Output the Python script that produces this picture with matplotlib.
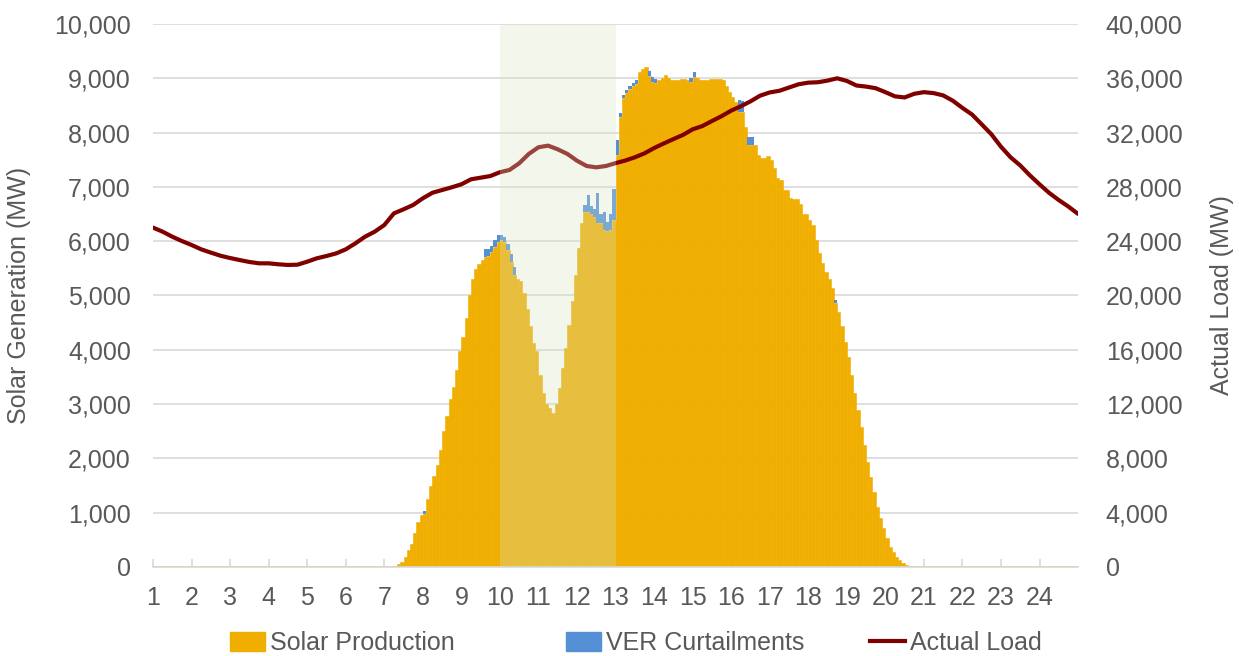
import numpy as np
import matplotlib
matplotlib.use("Agg")
import matplotlib.pyplot as plt
from matplotlib.patches import Patch
from matplotlib.lines import Line2D
from matplotlib.ticker import FuncFormatter, MultipleLocator

# 5-minute solar production (MW), 288 intervals from hour 1 to hour 25
solar_mw = [20] * 76 + [
    50, 100, 190, 320, 420, 620, 830, 960, 980, 1250, 1500, 1680,          # 76-87
    1880, 2150, 2500, 2780, 3100, 3320, 3630, 3980, 4240, 4580, 5000, 5300,  # 88-99
    5480, 5580, 5650, 5700, 5720, 5800, 5900, 5980, 6020, 5990, 5840, 5620,  # 100-111
    5380, 5300, 5270, 5040, 4760, 4430, 4120, 3970, 3540, 3210, 3010, 2920,  # 112-123
    2830, 3010, 3290, 3660, 4030, 4460, 4890, 5380, 5870, 6330, 6540, 6540,  # 124-135
    6510, 6450, 6330, 6330, 6200, 6180, 6200, 6390, 7590, 8290, 8630, 8730,  # 136-147
    8800, 8850, 8900, 9120, 9170, 9200, 9050, 8940, 8920, 8970, 9000, 9060,  # 148-159
    9010, 8970, 8970, 8970, 8990, 8990, 8970, 8940, 9030, 9000, 8970, 8970,  # 160-171
    8970, 8990, 8990, 8990, 8990, 8970, 8850, 8750, 8660, 8570, 8385, 8380,  # 172-183
    8100, 7780, 7780, 7770, 7590, 7530, 7530, 7560, 7500, 7340, 7160, 7130,  # 184-195
    6940, 6940, 6790, 6770, 6770, 6690, 6510, 6510, 6390, 6300, 6020, 5780,  # 196-207
    5590, 5440, 5300, 5130, 4860, 4700, 4430, 4150, 3870, 3540, 3200, 2890,  # 208-219
    2580, 2250, 1940, 1660, 1390, 1110, 900, 710, 530, 370, 280, 190,        # 220-231
    130, 70, 40,                                                             # 232-234
] + [20] * 53

# VER curtailments stacked on top of solar (MW)
curtail_mw = ([0] * 84 + [50] + [0] * 18
              + [150, 130, 120, 120, 130, 100, 80, 110, 140, 150]
              + [0] * 21
              + [130, 310, 130, 150, 560, 180, 340, 180, 300, 580, 280, 80, 60, 60, 50, 60, 60]
              + [0, 0, 0] + [90, 80, 60] + [0] * 10 + [70, 90] + [0] * 13
              + [215, 200, 0, 140, 140] + [0] * 25 + [60] + [0] * 75)

# Actual load (MW), every 15 minutes from hour 1 to hour 25
load_mw = [
    25000, 24700, 24330, 24010, 23720, 23400, 23160, 22930, 22760, 22610,
    22470, 22370, 22370, 22300, 22250, 22270, 22490, 22740, 22910, 23100,
    23400, 23840, 24330, 24700, 25190, 26050, 26350, 26670, 27160, 27570,
    27770, 27970, 28190, 28560, 28680, 28800, 29080, 29250, 29740, 30430,
    30920, 31040, 30770, 30430, 29930, 29540, 29440, 29540, 29750, 29940,
    30180, 30470, 30860, 31200, 31520, 31830, 32240, 32480, 32850, 33210,
    33620, 33940, 34300, 34720, 34960, 35080, 35320, 35560, 35680, 35710,
    35830, 36000, 35810, 35470, 35390, 35270, 34980, 34670, 34590, 34860,
    34980, 34910, 34740, 34350, 33820, 33330, 32610, 31880, 30960, 30180,
    29580, 28850, 28190, 27560, 27030, 26550, 26010,
]

hour_labels = [str(h) for h in range(1, 25)]
series_names = ["Solar Production", "VER Curtailments", "Actual Load"]
shade_start, shade_end = 10, 13

assert len(solar_mw) == 288 and len(curtail_mw) == 288

ORANGE = "#F0AE00"
BLUE = "#5590D6"
DARKRED = "#800000"
GRAY = "#595959"
GRID = "#D9D9D9"

plt.rcParams["font.family"] = ["Liberation Sans", "DejaVu Sans"]
FS = 18

fig = plt.figure(figsize=(12.39, 6.56), dpi=100)
ax = fig.add_axes([0.1235, 0.1357, 0.7466, 0.8277])
ax2 = ax.twinx()

x5 = 1 + np.arange(len(solar_mw)) / 12
solar = np.array(solar_mw, dtype=float)
curt = np.array(curtail_mw, dtype=float)
ax.bar(x5, solar, width=1 / 12, align="edge", color=ORANGE,
       edgecolor=ORANGE, linewidth=0.4, zorder=2)
ax.bar(x5, curt, width=1 / 12, bottom=solar, align="edge", color=BLUE,
       linewidth=0, zorder=2)

x15 = 1 + np.arange(len(load_mw)) / 4
ax2.plot(x15, load_mw, color=DARKRED, lw=3, solid_capstyle="round", zorder=3)
ax2.axvspan(shade_start, shade_end, color=(0.835, 0.887, 0.758), alpha=0.31,
            lw=0, zorder=5)

ax.set_xlim(1, 25)
ax.set_ylim(0, 10000)
ax2.set_ylim(0, 40000)
ax.set_xticks(range(1, 25))
ax.set_xticklabels(hour_labels)
ax.yaxis.set_major_locator(MultipleLocator(1000))
ax2.yaxis.set_major_locator(MultipleLocator(4000))
fmt = FuncFormatter(lambda v, p: f"{int(v):,}")
ax.yaxis.set_major_formatter(fmt)
ax2.yaxis.set_major_formatter(fmt)

ax.grid(axis="y", color=GRID, lw=1.2, zorder=0)
ax.set_axisbelow(True)
for a in (ax, ax2):
    for s in ("top", "left", "right"):
        a.spines[s].set_visible(False)
    a.spines["bottom"].set_color(GRID)
    a.spines["bottom"].set_linewidth(1.2)
ax2.spines["bottom"].set_visible(False)

ax.tick_params(axis="x", direction="in", length=6, color=GRID, width=1.2,
               labelsize=FS, labelcolor=GRAY, pad=14)
ax.tick_params(axis="y", length=0, labelsize=FS, labelcolor=GRAY, pad=16)
ax2.tick_params(axis="y", length=0, labelsize=FS, labelcolor=GRAY, pad=20)

ax.set_ylabel("Solar Generation (MW)", fontsize=FS, color=GRAY)
ax2.set_ylabel("Actual Load (MW)", fontsize=FS, color=GRAY)
ax.yaxis.set_label_coords(-0.132, 0.5)
ax2.yaxis.set_label_coords(1.1427, 0.5)

# legend entries sit unevenly in the original, so place them one by one
handles = [Patch(color=ORANGE), Patch(color=BLUE), Line2D([], [], color=DARKRED, lw=3)]
for h, name, xpos in zip(handles, series_names, [0.1856, 0.4568, 0.7022]):
    leg = fig.legend([h], [name], loc="center left", bbox_to_anchor=(xpos, 0.02),
                     frameon=False, fontsize=FS, labelcolor=GRAY, borderpad=0,
                     borderaxespad=0, handlelength=1.4, handleheight=0.8,
                     handletextpad=0.2)

fig.savefig("out.png", dpi=100)
